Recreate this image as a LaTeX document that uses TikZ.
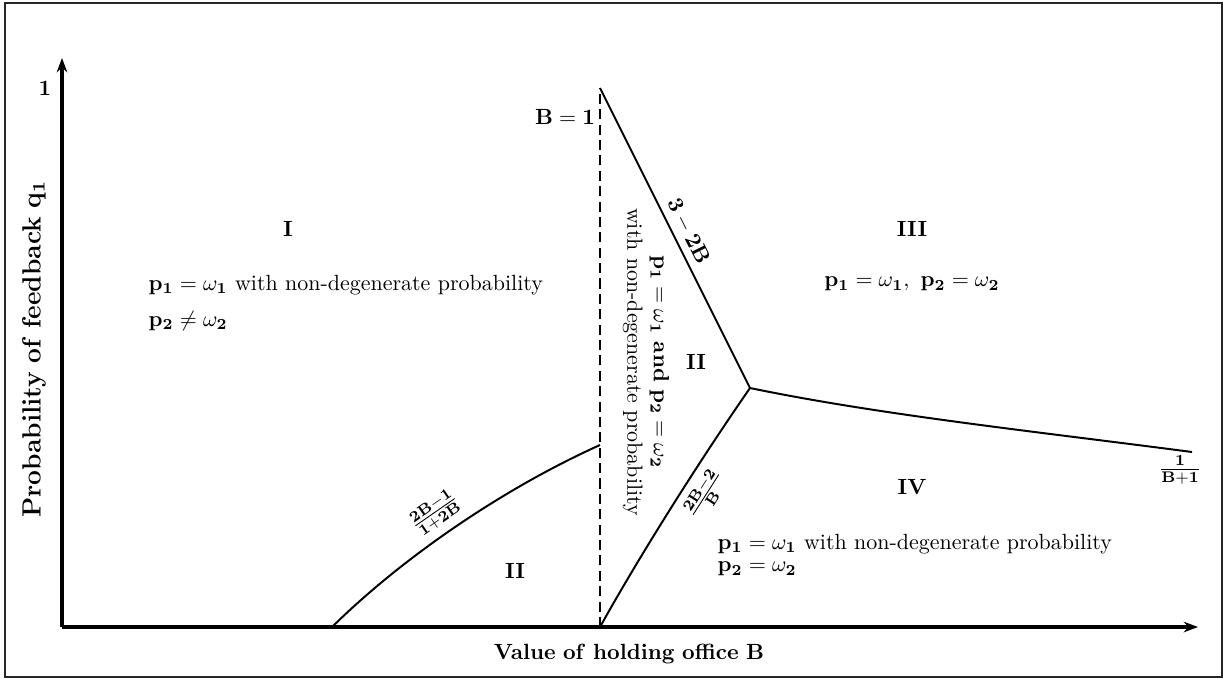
\documentclass[tikz,border=0pt]{standalone}
\usepackage{amsmath}
\usetikzlibrary{arrows.meta}
\begin{document}
\begin{tikzpicture}[x=0.455pt,y=-0.455pt,
  axis/.style={line width=1.8pt,-{Stealth[length=6.5pt,width=4.8pt]}},
  bound/.style={line width=0.9pt},
  lbl/.style={inner sep=1pt,font=\normalsize},
  region/.style={font=\bfseries\normalsize}]
\useasboundingbox (0,0) rectangle (1228,681);
\draw[line width=0.9pt,black!85] (5,3) rectangle (1222,677);
% axes
\coordinate (O) at (62,627);
\coordinate (Ytop) at (62,58);
\coordinate (Xend) at (1198,627);
\draw[axis] (O) -- (Ytop);
\draw[axis] (O) -- (Xend);
\node[lbl] (one) at (45,88) {$\mathbf{1}$};
\node[lbl,rotate=90,font=\fontsize{11.6}{14}\selectfont] (ylab) at (34,349) {$\mathbf{Probability\ of\ feedback\ q_1}$};
\node[lbl] (xlab) at (629,654) {$\mathbf{Value\ of\ holding\ office\ B}$};
% key points
\coordinate (Dtop) at (600,88);
\coordinate (Dbot) at (600,627);
\coordinate (Dmid) at (600,445);
\coordinate (T) at (750,388);
\coordinate (Rend) at (1192,452);
\coordinate (Lstart) at (332,627);
% boundaries
\draw[bound,dashed,dash pattern=on 4.6pt off 2.4pt] (Dbot) -- (Dtop);
\draw[bound] (Dtop) -- node[sloped,above,pos=0.5,inner sep=2.5pt] {$\mathbf{3-2B}$} (T);
\draw[bound] (T) .. controls (880,415) and (1040,432) .. (Rend);
\draw[bound] (Dbot) .. controls (640,555) and (700,460) .. node[sloped,below,pos=0.6,inner sep=3.5pt] {$\mathbf{\frac{2B-2}{B}}$} (T);
\draw[bound] (Lstart) .. controls (400,560) and (500,490) .. node[sloped,above,pos=0.48,inner sep=3.5pt] {$\mathbf{\frac{2B-1}{1+2B}}$} (Dmid);
\node[lbl] (Bone) at (565,117) {$\mathbf{B=1}$};
\node[lbl] (frR) at (1180,470) {$\mathbf{\frac{1}{B+1}}$};
% region labels
\node[region] (r1) at (288,229) {I};
\node[region] (r3) at (912,229) {III};
\node[region] (r2a) at (696,362) {II};
\node[region] (r2b) at (515,571) {II};
\node[region] (r4) at (912,487) {IV};
% region texts
\node[lbl,anchor=west] (t1a) at (146,285) {$\mathbf{p_1=\omega_1}$ with non-degenerate probability};
\node[lbl,anchor=west] (t1b) at (146,321) {$\mathbf{p_2\neq\omega_2}$};
\node[lbl] (t3) at (912,284) {$\mathbf{p_1=\omega_1,\ p_2=\omega_2}$};
\node[lbl,anchor=west] (t4a) at (715,544) {$\mathbf{p_1=\omega_1}$ with non-degenerate probability};
\node[lbl,anchor=west] (t4b) at (715,569) {$\mathbf{p_2=\omega_2}$};
\node[lbl,rotate=-90,align=center] (t2) at (646,362) {$\mathbf{p_1=\omega_1}$ \textbf{and} $\mathbf{p_2=\omega_2}$\\with non-degenerate probability};
\end{tikzpicture}
\end{document}
